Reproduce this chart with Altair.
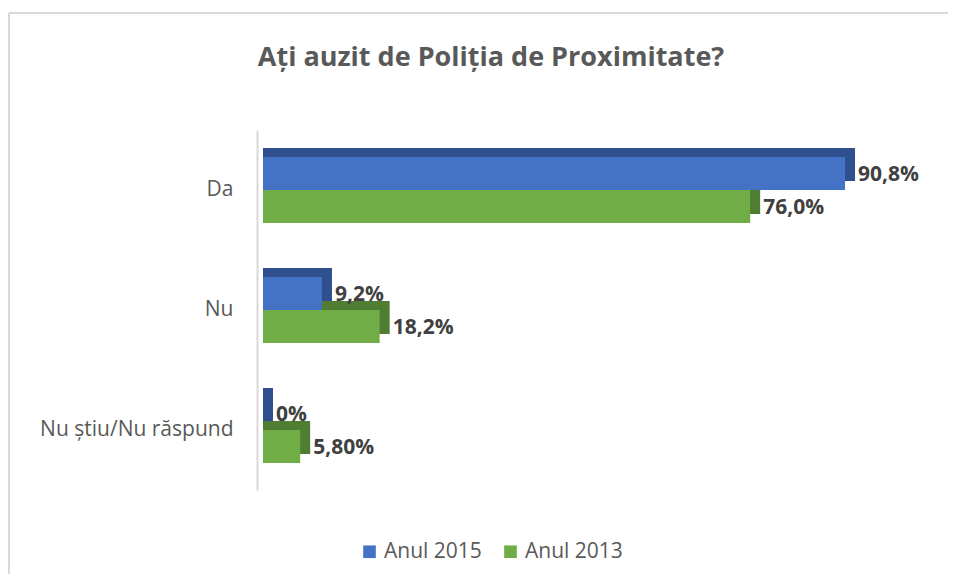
import altair as alt
import pandas as pd

categories = ["Da", "Nu", "Nu știu/Nu răspund"]
series = ["Anul 2015", "Anul 2013"]
values_2015 = [90.8, 9.2, 0.0]
values_2013 = [76.0, 18.2, 5.8]
labels_2015 = ["90,8%", "9,2%", "0%"]
labels_2013 = ["76,0%", "18,2%", "5,80%"]
colors = ["#4472C4", "#70AD47"]
depth_colors = ["#2F4F8F", "#4F7D31"]
title_text = "Ați auzit de Poliția de Proximitate?"

rows = []
for c, v, l in zip(categories, values_2015, labels_2015):
    rows.append({"cat": c, "series": series[0], "value": v, "label": l})
for c, v, l in zip(categories, values_2013, labels_2013):
    rows.append({"cat": c, "series": series[1], "value": v, "label": l})
df = pd.DataFrame(rows)

FONT = "Open Sans"
W, H = 641, 360
BW = 66  # band width of each category group
DEPTH_X = 10
DEPTH_Y = 9

y_enc = alt.Y(
    "cat:N", sort=categories,
    scale=alt.Scale(paddingInner=0.45, paddingOuter=0.225),
    axis=alt.Axis(title=None, labelFontSize=21, labelColor="#595959", labelFont=FONT,
                  ticks=False, domainColor="#d9d9d9", domainWidth=2, offset=6,
                  labelPadding=24, labelLimit=400, grid=False),
)

base = alt.Chart(df)

depth = base.mark_bar().encode(
    x=alt.X("value:Q", scale=alt.Scale(domain=[0, 100], range=[DEPTH_X, W + DEPTH_X]), axis=None),
    x2=alt.datum(-100 * DEPTH_X / W),
    y=y_enc,
    yOffset=alt.YOffset("series:N", sort=series, scale=alt.Scale(range=[-DEPTH_Y, BW - DEPTH_Y])),
    color=alt.Color("series:N", scale=alt.Scale(domain=series, range=depth_colors), legend=None),
)

front = base.mark_bar().encode(
    x=alt.X("value:Q", scale=alt.Scale(domain=[0, 100], range=[0, W]), axis=None),
    y=y_enc,
    yOffset=alt.YOffset("series:N", sort=series, scale=alt.Scale(range=[0, BW])),
    color=alt.Color("series:N", sort=series,
                    scale=alt.Scale(domain=series, range=colors),
                    legend=alt.Legend(title=None, orient="none", direction="horizontal",
                                      legendX=96, legendY=411, symbolType="square",
                                      symbolSize=160, symbolStrokeWidth=0,
                                      labelFontSize=21, labelFont=FONT, labelColor="#595959",
                                      columnPadding=18, labelOffset=4)),
)

labels = base.mark_text(align="left", baseline="middle", dx=13, dy=1, fontSize=21,
                        fontWeight="bold", font=FONT, color="#404040").encode(
    x=alt.X("value:Q", scale=alt.Scale(domain=[0, 100], range=[0, W]), axis=None),
    y=y_enc,
    yOffset=alt.YOffset("series:N", sort=series, scale=alt.Scale(range=[0, BW])),
    text="label:N",
)

title = alt.Chart(pd.DataFrame({"t": [title_text]})).mark_text(
    align="center", baseline="alphabetic", fontSize=27, fontWeight="bold",
    font=FONT, color="#595959").encode(
    x=alt.value(228), y=alt.value(-64), text="t:N")

frame_left = alt.Chart(df).mark_rule(color="#d9d9d9", strokeWidth=2).encode(
    x=alt.value(-254), y=alt.value(-117), y2=alt.value(460))
frame_top = alt.Chart(df).mark_rule(color="#d9d9d9", strokeWidth=2).encode(
    x=alt.value(-254), x2=alt.value(700), y=alt.value(-117))

chart = alt.layer(frame_left, frame_top, title, depth, front, labels).resolve_scale(
    x="independent", yOffset="independent", color="independent"
).properties(
    width=W, height=H,
    autosize=alt.AutoSizeParams(type="none"),
    padding={"left": 255, "top": 122, "right": 44, "bottom": 84},
).configure_view(stroke=None)

chart.save("out.html", embed_options={"renderer": "svg", "actions": False})
